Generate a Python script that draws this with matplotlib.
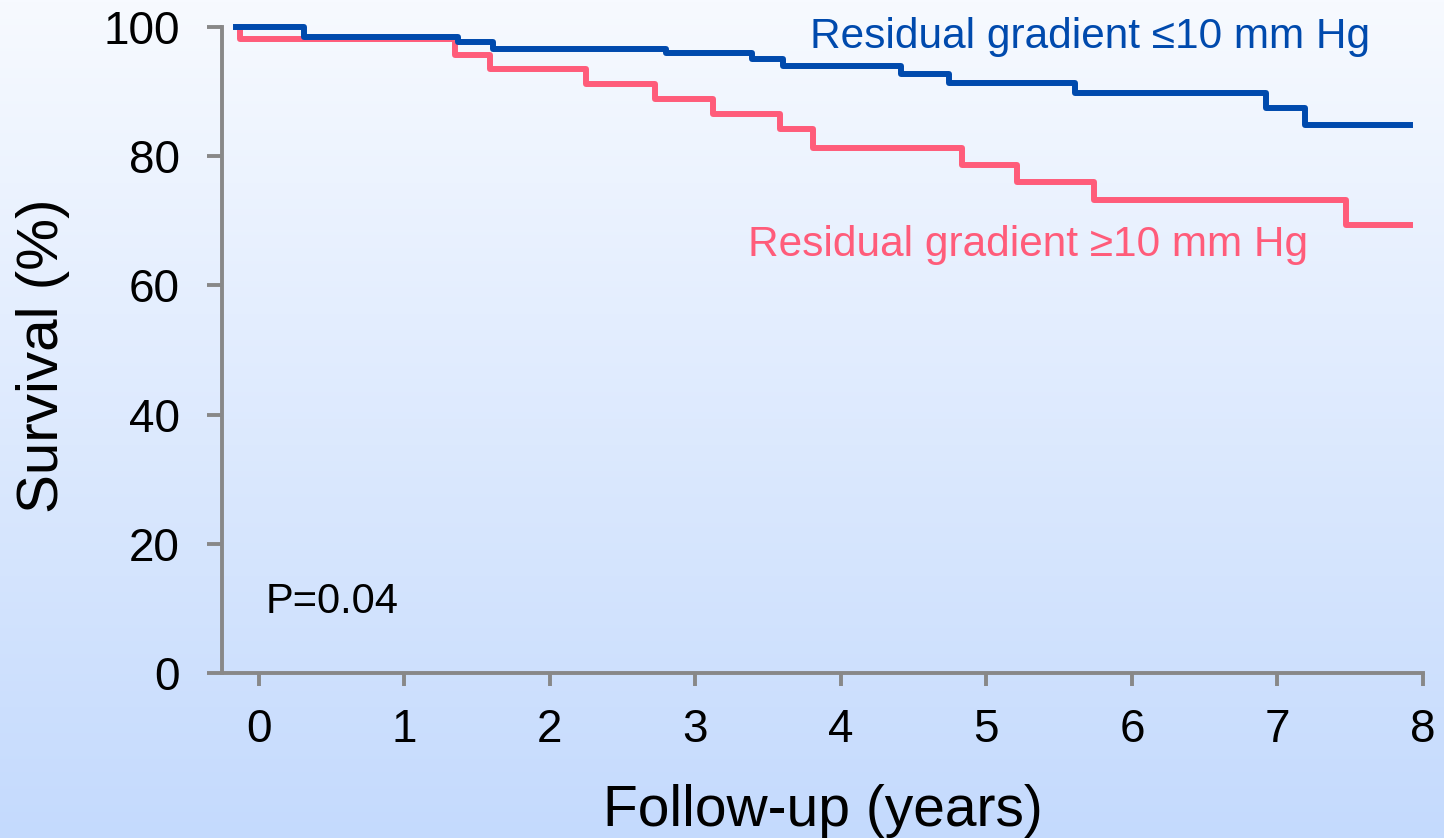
import numpy as np
import matplotlib.pyplot as plt
from matplotlib.colors import LinearSegmentedColormap

plt.rcParams['font.family'] = ['Liberation Sans', 'DejaVu Sans']

# Kaplan-Meier steps (years, survival %)
low_years = [-0.16, 0.31, 1.37, 1.61, 2.80, 3.39, 3.60, 4.41, 4.74, 5.61, 6.92, 7.19, 7.91]
low_surv = [100, 98.5, 97.7, 96.6, 95.9, 95.0, 93.9, 92.7, 91.4, 89.8, 87.4, 84.8, 84.8]

high_years = [-0.14, -0.13, 1.35, 1.59, 2.25, 2.72, 3.12, 3.58, 3.81, 4.83, 5.21, 5.74, 7.47, 7.91]
high_surv = [100, 98.1, 95.6, 93.5, 91.2, 88.9, 86.5, 84.2, 81.2, 78.7, 76.0, 73.2, 69.3, 69.3]

x_ticks = [0, 1, 2, 3, 4, 5, 6, 7, 8]
y_ticks = [0, 20, 40, 60, 80, 100]

blue = '#004AAD'
pink = '#FF5C7A'
axis_gray = '#888888'

fig = plt.figure(figsize=(14.44, 8.38), dpi=100)

# vertical background gradient, white-ish at top to light blue at bottom
bg = fig.add_axes([0, 0, 1, 1], zorder=-1)
cmap = LinearSegmentedColormap.from_list('bg', ['#C4DAFD', '#F7FAFF'])
bg.imshow(np.linspace(0, 1, 256).reshape(-1, 1), aspect='auto', cmap=cmap,
          origin='lower', extent=[0, 1, 0, 1])
bg.axis('off')

ax = fig.add_axes([222 / 1444, 1 - 673 / 838, 1201 / 1444, 646 / 838])
ax.patch.set_alpha(0)

ax.step(high_years, high_surv, where='post', color=pink, lw=4.3, clip_on=False, zorder=3)
ax.step(low_years, low_surv, where='post', color=blue, lw=4.3, clip_on=False, zorder=4)

ax.set_xlim(-0.253, 8)
ax.set_ylim(0, 100)
ax.set_xticks(x_ticks)
ax.set_yticks(y_ticks)

for side in ['top', 'right']:
    ax.spines[side].set_visible(False)
for side in ['left', 'bottom']:
    ax.spines[side].set_color(axis_gray)
    ax.spines[side].set_linewidth(2.8)
    ax.spines[side].set_capstyle('projecting')

ax.tick_params(axis='both', colors=axis_gray, width=2.8, labelsize=33,
               labelcolor='black')
ax.tick_params(axis='x', length=9.5, pad=16)
ax.tick_params(axis='y', length=10.5, pad=20)

fig.text(43 / 1444, 1 - 356 / 838, 'Survival (%)', rotation=90, fontsize=42,
         ha='center', va='center')
fig.text(823 / 1444, 1 - 826 / 838, 'Follow-up (years)', fontsize=41,
         ha='center', va='baseline')

ax.text(3.79, 96.7, 'Residual gradient \u226410 mm Hg', color=blue, fontsize=30.5,
        ha='left', va='baseline')
ax.text(3.36, 64.6, 'Residual gradient \u226510 mm Hg', color=pink, fontsize=30.5,
        ha='left', va='baseline')
ax.text(0.048, 9.3, 'P=0.04', color='black', fontsize=30, ha='left', va='baseline')

fig.savefig('out.png', dpi=100)
